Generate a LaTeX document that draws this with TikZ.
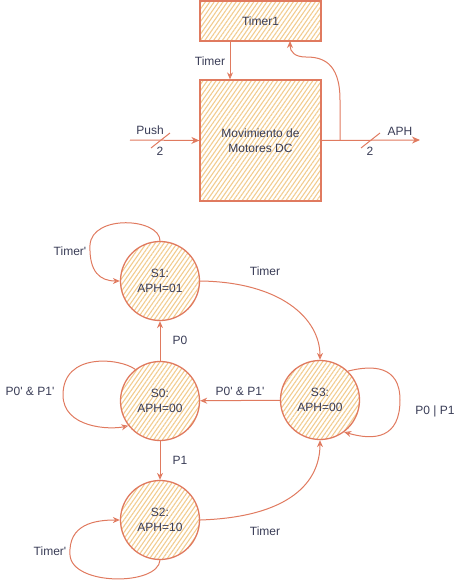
\documentclass[tikz,border=0pt]{standalone}
\usepackage{fontspec}
\setmainfont{Liberation Sans}
\usetikzlibrary{patterns.meta,arrows.meta}
\definecolor{strk}{HTML}{E07A5F}
\definecolor{hatch}{HTML}{F2CC8F}
\definecolor{txt}{HTML}{393C56}
\newcommand{\pr}{\textquotesingle}
\begin{document}
\begin{tikzpicture}[x=1pt,y=-1pt,
  every node/.style={text=txt,font=\fontsize{12}{14.5}\selectfont},
  blockbox/.style={draw=strk,line width=1.3pt,pattern={Lines[angle=55,distance=3.6pt,line width=1.1pt]},pattern color=hatch,inner sep=0pt,align=center},
  statec/.style={circle,draw=strk,line width=1.3pt,pattern={Lines[angle=55,distance=3.6pt,line width=1.1pt]},pattern color=hatch,minimum size=79pt,inner sep=0pt,align=center},
  conn/.style={draw=strk,line width=1pt,-{Stealth[open,length=7pt,width=6pt]}},
  bus/.style={draw=strk,line width=1pt,-{Stealth[length=8pt,width=7pt]}},
  lbl/.style={inner sep=1pt}
]
\useasboundingbox (0,0) rectangle (461,584);
% block diagram
\node[blockbox,minimum width=121pt,minimum height=40pt] (t1) at (260.5,21) {Timer1};
\node[blockbox,minimum width=121pt,minimum height=121pt] (m) at (260.5,140.5) {Movimiento de\\Motores DC};
\draw[conn] (t1.south -| 230,0) -- (m.north -| 230,0);
\node[lbl] (ltimer) at (210,61) {Timer};
\coordinate (pushstart) at (130,140);
\coordinate (aphend) at (420,140);
\coordinate (fb) at (340,140);
\coordinate (t1in) at (290,41);
\draw[bus] (pushstart) -- (m.west);
\draw[bus] (m.east) -- (aphend);
\draw[draw=strk,line width=1pt] (151,148) -- (170,133);
\draw[draw=strk,line width=1pt] (361,148) -- (380,133);
\node[lbl] (lpush) at (150,130) {Push};
\node[lbl] (lpush2) at (160,151) {2};
\node[lbl] (laph) at (400,131) {APH};
\node[lbl] (laph2) at (370,151) {2};
\draw[conn] (fb) -- (340,100) .. controls (340,62) and (322,57) .. (306,57) .. controls (295,57) and (290,52) .. (t1in);
% state machine
\node[statec] (s1) at (160,281) {S1:\\APH=01};
\node[statec] (s0) at (160,401) {S0:\\APH=00};
\node[statec] (s2) at (160,520) {S2:\\APH=10};
\node[statec] (s3) at (320,400) {S3:\\APH=00};
\draw[conn] (s0) -- (s1);
\draw[conn] (s0) -- (s2);
\draw[conn] (s3) -- (s0);
\draw[conn] (s1.east) .. controls (280,282) and (320,318) .. (s3.north);
\draw[conn] (s2.east) .. controls (290,517) and (320,482) .. (s3.south);
\draw[conn] (s1.north) .. controls (160,218) and (92,214) .. (90,245) .. controls (89,272) and (100,281) .. (s1.west);
\draw[conn] (s0.128) .. controls (120,358) and (63,352) .. (63,395) .. controls (63,428) and (110,430) .. (s0.218);
\draw[conn] (s2.south) .. controls (158,586) and (72,586) .. (70,555) .. controls (68,524) and (95,520) .. (s2.west);
\draw[conn] (s3.46) .. controls (372,365) and (400,365) .. (400,400) .. controls (400,438) and (375,441) .. (s3.307);
\node[lbl] (lp0) at (180,340) {P0};
\node[lbl] (lp1) at (180,460) {P1};
\node[lbl] (lp0p1a) at (240,391) {P0\pr{} \& P1\pr};
\node[lbl] (lp0p1b) at (30,391) {P0\pr{} \& P1\pr};
\node[lbl] (lt1) at (265,271) {Timer};
\node[lbl] (lt2) at (265,531) {Timer};
\node[lbl] (lt1p) at (70,251) {Timer\pr};
\node[lbl] (lt2p) at (50,551) {Timer\pr};
\node[lbl] (lp0or) at (435,411) {P0 | P1};
\end{tikzpicture}
\end{document}
